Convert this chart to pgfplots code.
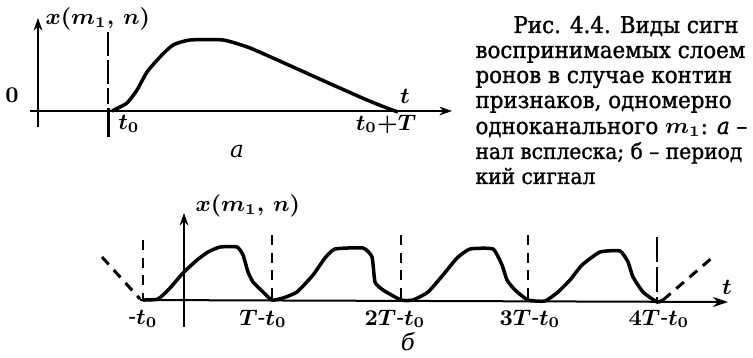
\documentclass[border=0pt]{standalone}
\usepackage{pgfplots}
\pgfplotsset{compat=1.18}
\usetikzlibrary{arrows.meta}
\usepackage{fontspec}
\setmainfont{DejaVu Serif}
\newfontfamily\capfont{DejaVu Serif}[FakeStretch=0.93, FakeBold=1.2]

\begin{document}
\boldmath
\begin{tikzpicture}
\begin{axis}[name=ax, scale only axis, width=301.2pt, height=142.8pt,
  xmin=0, xmax=753, ymin=0, ymax=357, y dir=reverse, hide axis, clip=false]

% ---------- (a) burst signal ----------
\addplot[black, line width=0.8pt, -{Stealth[length=5pt,width=3.5pt]}] coordinates {(38,127) (38,18)};
\addplot[black, line width=0.8pt, -{Stealth[length=5pt,width=3.5pt]}] coordinates {(30,111) (452,111)};
% marker at t0
\addplot[black, line width=1pt, dash pattern=on 9.6pt off 1.6pt] coordinates {(108,32) (108,104)};
\addplot[black, line width=1.2pt] coordinates {(108,108) (108,137)};
% burst
\addplot[black, line width=1.4pt, smooth, tension=0.35, line join=round] coordinates {
  (112,111) (127,103) (137,90) (147,72) (160,57) (173,45) (190,40)
  (223,40) (250,48) (293,67) (333,85) (367,100) (387,108) (398,112)};

% ---------- (b) periodic signal ----------
\addplot[black, line width=0.8pt, -{Stealth[length=5pt,width=3.5pt]}] coordinates {(184,327) (184,213)};
\addplot[black, line width=0.8pt, -{Stealth[length=6pt,width=4pt]}] coordinates {(140,300) (728,302)};
% period markers
\addplot[black, line width=1pt, dash pattern=on 4pt off 3pt] coordinates {(143,240) (143,300)};
\addplot[black, line width=1pt, dash pattern=on 4pt off 3pt] coordinates {(272,235) (272,300)};
\addplot[black, line width=1pt, dash pattern=on 4pt off 3pt] coordinates {(401,235) (401,300)};
\addplot[black, line width=1pt, dash pattern=on 4pt off 3pt] coordinates {(528,235) (528,300)};
\addplot[black, line width=1pt, dash pattern=on 10pt off 2pt] coordinates {(657,237) (657,302)};
% continuation beyond the drawn periods
\addplot[black, line width=1.2pt, dash pattern=on 4pt off 3pt] coordinates {(102,257) (140,299)};
\addplot[black, line width=1.2pt, dash pattern=on 4pt off 3pt] coordinates {(663,300) (713,257)};
% periodic signal
\addplot[black, line width=1.4pt, smooth, tension=0.3, line join=round] coordinates {
  (143,300) (158,299) (170,288) (183,273) (197,260) (208,252) (220,247) (237,247)
  (243,255) (248,272) (253,282) (262,291) (272,300)
  (283,298) (297,292) (313,275) (325,258) (335,249) (363,248)
  (372,257) (375,282) (383,290) (401,300)
  (413,300) (428,292) (443,275) (457,258) (470,249) (493,249)
  (502,265) (507,280) (515,290) (528,300)
  (545,301) (558,292) (570,280) (582,265) (600,252) (620,251)
  (628,262) (633,277) (643,292) (657,302) (663,300)};
\end{axis}

% labels, in the same 753 x 357 grid as the axis (origin top left)
\begin{scope}[shift={(ax.north west)}, x=0.4pt, y=-0.4pt]
\tikzset{every node/.style={font=\fontsize{9.2}{11}\selectfont}}
\node[anchor=base west, inner sep=0pt] at (45,25) {$x(m_1,\, n)$};
\node at (12,95) {$0$};
\node at (405,96) {$t$};
\node at (129,124) {$t_0$};
\node at (386,124) {$t_0{+}T$};
\node at (237,152) {\textit{а}};

\node[anchor=base west, inner sep=0pt] at (195,212) {$x(m_1,\, n)$};
\node at (727,287) {$t$};
\node at (143,319) {-$t_0$};
\node at (263,319) {$T$-$t_0$};
\node at (395,319) {$2T$-$t_0$};
\node at (530,319) {$3T$-$t_0$};
\node at (659,319) {$4T$-$t_0$};
\node at (408,342) {\textit{б}};

\tikzset{every node/.style={font=\capfont\fontsize{9.2}{11}\selectfont, anchor=base west, inner sep=0pt}}
\node at (513,33) {Рис. 4.4. Виды сигн};
\node at (475,58) {воспринимаемых слоем};
\node at (475,83) {ронов в случае контин};
\node at (475,108) {признаков, одномерно};
\node at (475,134) {одноканального $m_1$: \textit{а} –};
\node[font=\capfont\fontsize{8.7}{11}\selectfont] at (475,159) {нал всплеска; б – период};
\node[font=\capfont\fontsize{8.7}{11}\selectfont] at (475,184) {кий сигнал};
\end{scope}

\pgfresetboundingbox
\path[use as bounding box] (ax.south west) rectangle (ax.north east);
\end{tikzpicture}
\end{document}
